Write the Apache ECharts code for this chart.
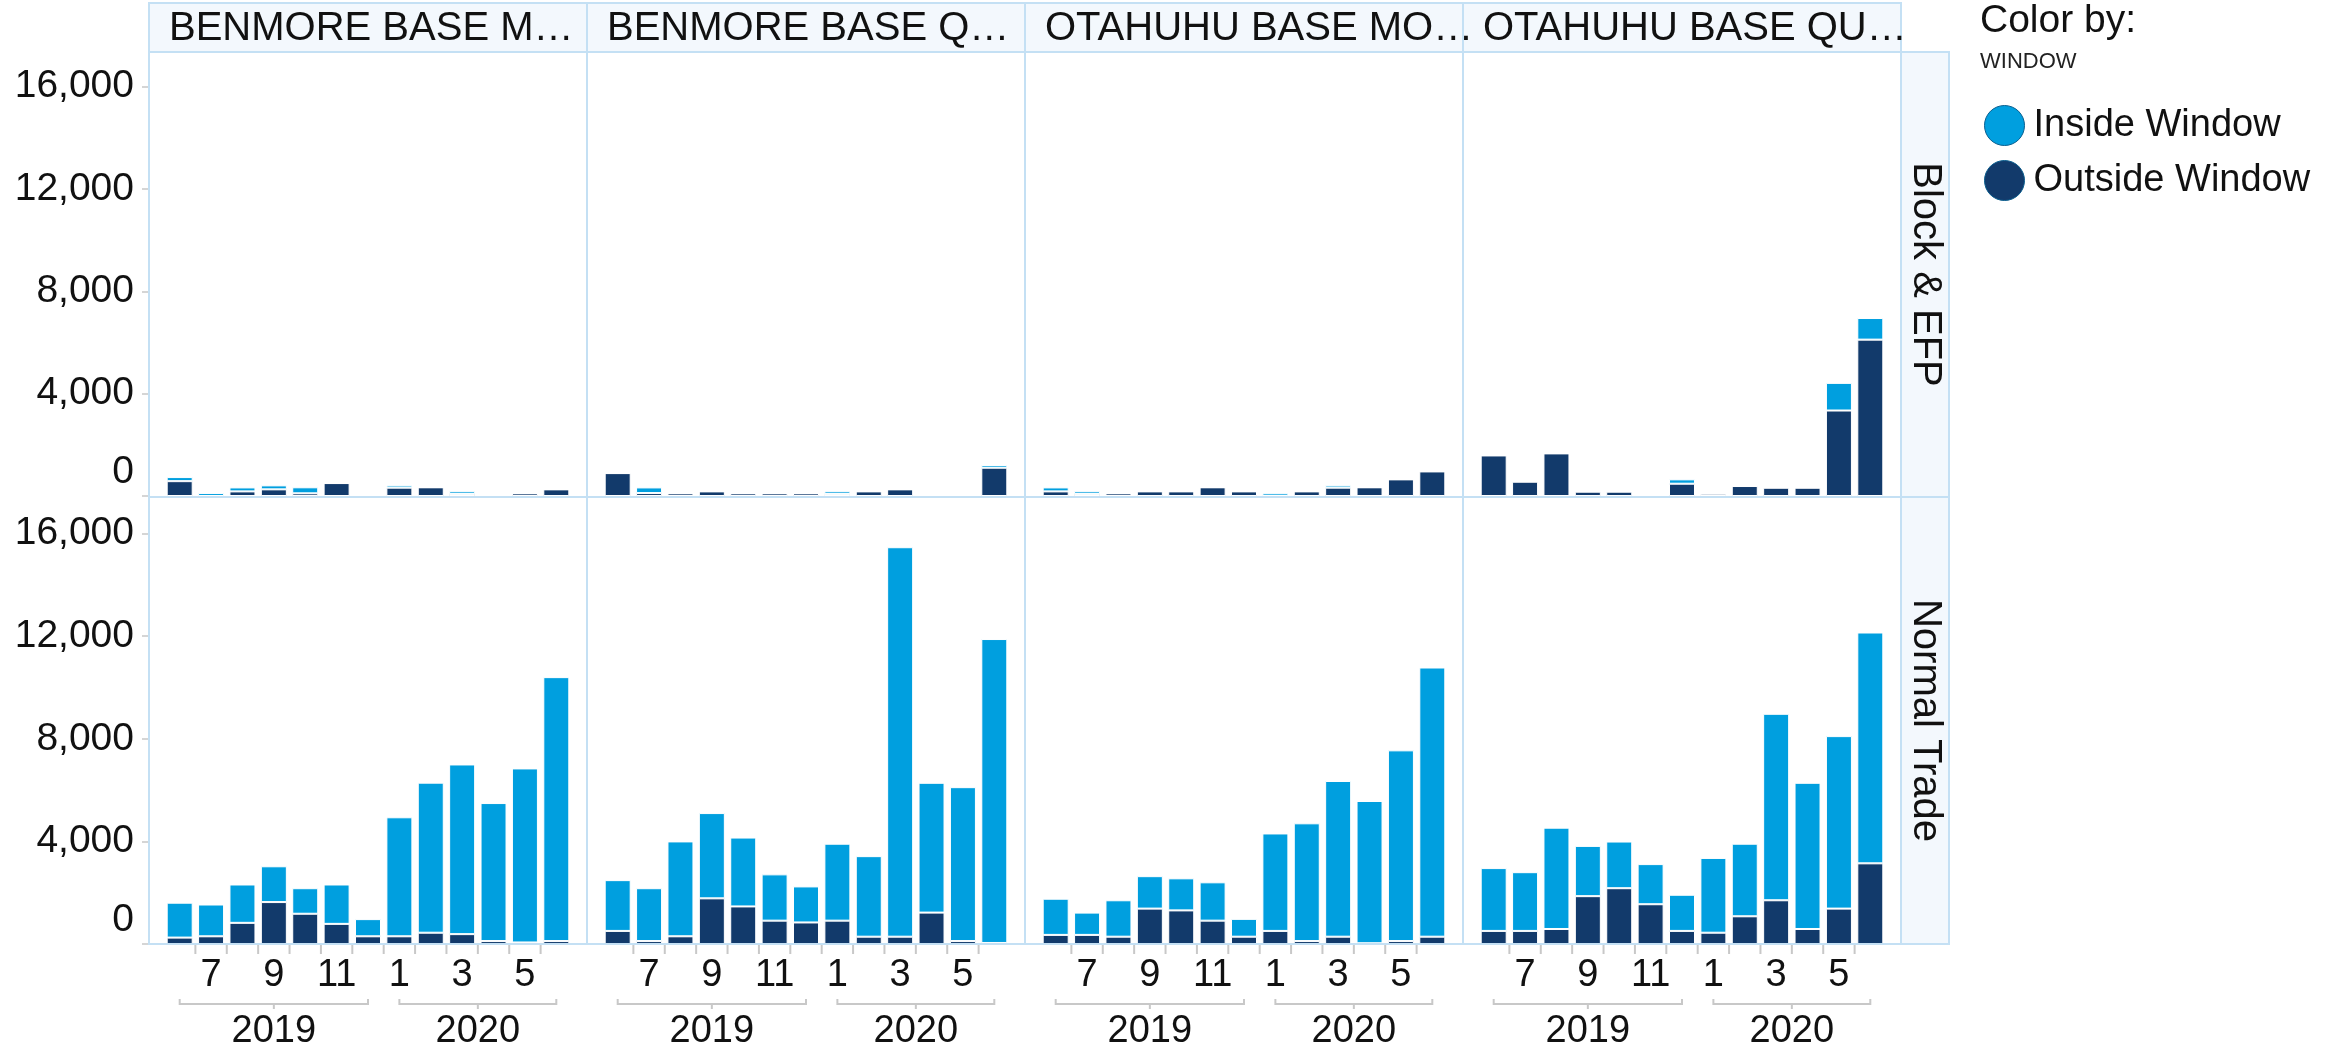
<!DOCTYPE html>
<html><head><meta charset="utf-8">
<script src="https://cdn.jsdelivr.net/npm/echarts@6/dist/echarts.min.js"></script>
<style>html,body{margin:0;padding:0;background:#fff}#c{width:2343px;height:1051px}</style>
</head><body><div id="c"></div>
<script>
// ---------------- DATA ----------------
const months = ['2019-06','2019-07','2019-08','2019-09','2019-10','2019-11','2019-12',
                '2020-01','2020-02','2020-03','2020-04','2020-05','2020-06'];
const contractLabels = ['BENMORE BASE M…','BENMORE BASE Q…','OTAHUHU BASE MO…','OTAHUHU BASE QU…'];
const tradeTypes = ['Block & EFP','Normal Trade'];
const windowNames = ['Inside Window','Outside Window'];
const yTickValues = [0,4000,8000,12000,16000];

// Block & EFP
const benmoreMBlockOutside = [580,0,180,260,105,505,0,325,340,80,0,105,260];
const benmoreMBlockInside  = [160,115,155,155,235,0,0,90,0,105,0,0,0];
const benmoreQBlockOutside = [895,115,105,180,105,105,105,80,180,260,0,0,1105];
const benmoreQBlockInside  = [0,220,0,0,0,0,0,105,0,0,0,0,105];
const otahuhuMBlockOutside = [180,80,105,180,180,340,180,0,180,325,340,650,960];
const otahuhuMBlockInside  = [155,105,0,0,0,0,0,105,0,90,0,0,0];
const otahuhuQBlockOutside = [1585,560,1665,170,170,0,480,90,390,325,325,3340,6110];
const otahuhuQBlockInside  = [0,0,0,0,0,0,170,0,0,0,0,1080,845];

// Normal Trade
const benmoreMNormalOutside = [250,300,825,1635,1180,785,300,300,440,385,115,60,115];
const benmoreMNormalInside  = [1360,1240,1495,1395,995,1535,670,4640,5850,6615,5380,6785,10290];
const benmoreQNormalOutside = [510,115,300,1780,1465,910,840,910,285,285,1225,115,40];
const benmoreQNormalInside  = [1980,2060,3700,3325,2685,1805,1405,3000,3140,15185,5060,6000,11850];
const otahuhuMNormalOutside = [355,355,285,1380,1310,910,285,510,115,285,30,115,285];
const otahuhuMNormalInside  = [1410,870,1420,1265,1250,1495,695,3800,4590,6070,5545,7435,10495];
const otahuhuQNormalOutside = [510,510,585,1865,2175,1550,510,440,1080,1705,585,1380,3145];
const otahuhuQNormalInside  = [2450,2290,3950,1960,1820,1565,1410,2915,2830,7270,5700,6725,9000];

const panelData = [
  [[benmoreMBlockOutside,benmoreMBlockInside],[benmoreQBlockOutside,benmoreQBlockInside],
   [otahuhuMBlockOutside,otahuhuMBlockInside],[otahuhuQBlockOutside,otahuhuQBlockInside]],
  [[benmoreMNormalOutside,benmoreMNormalInside],[benmoreQNormalOutside,benmoreQNormalInside],
   [otahuhuMNormalOutside,otahuhuMNormalInside],[otahuhuQNormalOutside,otahuhuQNormalInside]]
];

// ---------------- STYLE / LAYOUT ----------------
const FONT = "'Liberation Sans', Arial, Helvetica, sans-serif";
const C_IN = '#009fdf', C_OUT = '#123a6b';
const FRAME = '#c4e0f4', HEAD_BG = '#f3f8fd', TICK = '#c8c8c8';
const colLeft = [149, 587, 1025, 1463], colW = 438, inset = 15;
const rowTop = [52, 497], rowBottom = [497, 944];
const stripX = 1901, stripW = 48, headTop = 3;

function fmt(v){ return String(v).replace(/\B(?=(\d{3})+(?!\d))/g, ','); }

const grids = [], xAxes = [], yAxes = [], series = [];
for (let r = 0; r < 2; r++) {
  for (let c = 0; c < 4; c++) {
    const p = r * 4 + c;
    const top = r === 0 ? rowTop[0] : rowTop[1] + 2;
    grids.push({ left: colLeft[c] + inset, width: colW - 2 * inset, top: top,
                 height: rowBottom[r] - top - (r === 0 ? 1 : 0), containLabel: false });
    xAxes.push({
      type: 'category', gridIndex: p, data: months,
      axisLine: { show: false }, axisTick: { show: false },
      axisLabel: { show: r === 1, interval: (i) => i % 2 === 1, margin: 13,
        formatter: (v) => String(parseInt(v.slice(5), 10)),
        fontSize: 38, fontFamily: FONT, color: '#111' }
    });
    yAxes.push({
      type: 'value', gridIndex: p, min: 0, max: 17350, interval: 4000,
      offset: inset, splitLine: { show: false }, axisLine: { show: false },
      axisTick: { show: c === 0, length: 7, customValues: yTickValues, lineStyle: { color: TICK, width: 1.5 } },
      axisLabel: { show: c === 0, customValues: yTickValues, margin: 15,
        fontSize: 39, fontFamily: FONT, color: '#111',
        formatter: (v) => v === 0 ? '{z|0}' : fmt(v),
        rich: { z: { fontSize: 39, fontFamily: FONT, color: '#111', padding: [0, 0, 48, 0] } } }
    });
    const [outside, inside] = panelData[r][c];
    const common = { type: 'bar', xAxisIndex: p, yAxisIndex: p, stack: 's' + p, barWidth: 26,
                     emphasis: { disabled: true } };
    series.push(Object.assign({}, common, { name: windowNames[1], data: outside,
      itemStyle: { color: C_OUT, borderColor: '#ffffff', borderWidth: 1 } }));
    series.push(Object.assign({}, common, { name: windowNames[0], data: inside,
      itemStyle: { color: C_IN, borderColor: '#ffffff', borderWidth: 1 } }));
  }
}

// static decorations: headers, strips, frames, legend title
const staticGraphic = [];
for (let c = 0; c < 4; c++) {
  staticGraphic.push({ type: 'rect', z: 1, shape: { x: colLeft[c], y: headTop, width: colW, height: rowTop[0] - headTop },
    style: { fill: HEAD_BG, stroke: FRAME, lineWidth: 2 } });
  staticGraphic.push({ type: 'text', z: 2, x: colLeft[c] + 20, y: (headTop + rowTop[0]) / 2 + 1,
    style: { text: contractLabels[c], fontSize: 40, fontFamily: FONT, fill: '#111', verticalAlign: 'middle', align: 'left' } });
  for (let r = 0; r < 2; r++) {
    staticGraphic.push({ type: 'rect', z: 5, silent: true,
      shape: { x: colLeft[c], y: rowTop[r], width: colW, height: rowBottom[r] - rowTop[r] },
      style: { fill: null, stroke: FRAME, lineWidth: 2 } });
  }
}
for (let r = 0; r < 2; r++) {
  staticGraphic.push({ type: 'rect', z: 1, shape: { x: stripX, y: rowTop[r], width: stripW, height: rowBottom[r] - rowTop[r] },
    style: { fill: HEAD_BG, stroke: FRAME, lineWidth: 2 } });
  staticGraphic.push({ type: 'text', z: 2, x: stripX + stripW / 2, y: (rowTop[r] + rowBottom[r]) / 2,
    rotation: -Math.PI / 2,
    style: { text: tradeTypes[r], fontSize: 40, fontFamily: FONT, fill: '#111', align: 'center', verticalAlign: 'middle' } });
}
staticGraphic.push({ type: 'text', x: 1980, y: 21,
  style: { text: 'Color by:', fontSize: 39, fontFamily: FONT, fill: '#111', verticalAlign: 'middle' } });
staticGraphic.push({ type: 'text', x: 1980, y: 62,
  style: { text: 'WINDOW', fontSize: 22, fontFamily: FONT, fill: '#222', verticalAlign: 'middle' } });

const chart = echarts.init(document.getElementById('c'), null, { renderer: 'canvas' });
chart.setOption({
  animation: false,
  backgroundColor: '#ffffff',
  grid: grids, xAxis: xAxes, yAxis: yAxes, series: series,
  legend: { data: windowNames, orient: 'vertical', left: 1979, top: 100, icon: 'circle',
    itemWidth: 40, itemHeight: 40, itemGap: 14, selectedMode: false,
    itemStyle: { borderColor: '#0b5f8f', borderWidth: 1 },
    textStyle: { fontSize: 38, fontFamily: FONT, color: '#111', padding: [0, 0, 0, 4] } },
  graphic: staticGraphic
});

// x ticks between bars and year brackets, positioned through the axes' own scales
const extra = [];
for (let c = 0; c < 4; c++) {
  const p = 4 + c;
  const px = (i) => chart.convertToPixel({ xAxisIndex: p }, months[i]);
  const axisY = rowBottom[1];
  for (let i = 1; i < months.length; i++) {
    const x = (px(i - 1) + px(i)) / 2;
    extra.push({ type: 'line', z: 3, shape: { x1: x, y1: axisY, x2: x, y2: axisY + 10 },
      style: { stroke: TICK, lineWidth: 2 } });
  }
  const years = [...new Set(months.map(m => m.slice(0, 4)))];
  years.forEach((yr) => {
    const idx = months.map((m, i) => m.slice(0, 4) === yr ? i : -1).filter(i => i >= 0);
    const x1 = px(idx[0]), x2 = px(idx[idx.length - 1]), xm = (x1 + x2) / 2;
    const by = 1004;
    extra.push({ type: 'polyline', z: 3, shape: { points: [[x1, by - 5], [x1, by], [x2, by], [x2, by - 5]] },
      style: { stroke: TICK, lineWidth: 2, fill: null } });
    extra.push({ type: 'line', z: 3, shape: { x1: xm, y1: by, x2: xm, y2: by + 5 },
      style: { stroke: TICK, lineWidth: 2 } });
    extra.push({ type: 'text', z: 3, x: xm, y: 1032,
      style: { text: yr, fontSize: 38, fontFamily: FONT, fill: '#111', align: 'center', verticalAlign: 'middle' } });
  });
}
chart.setOption({ graphic: staticGraphic.concat(extra) });
</script></body></html>
